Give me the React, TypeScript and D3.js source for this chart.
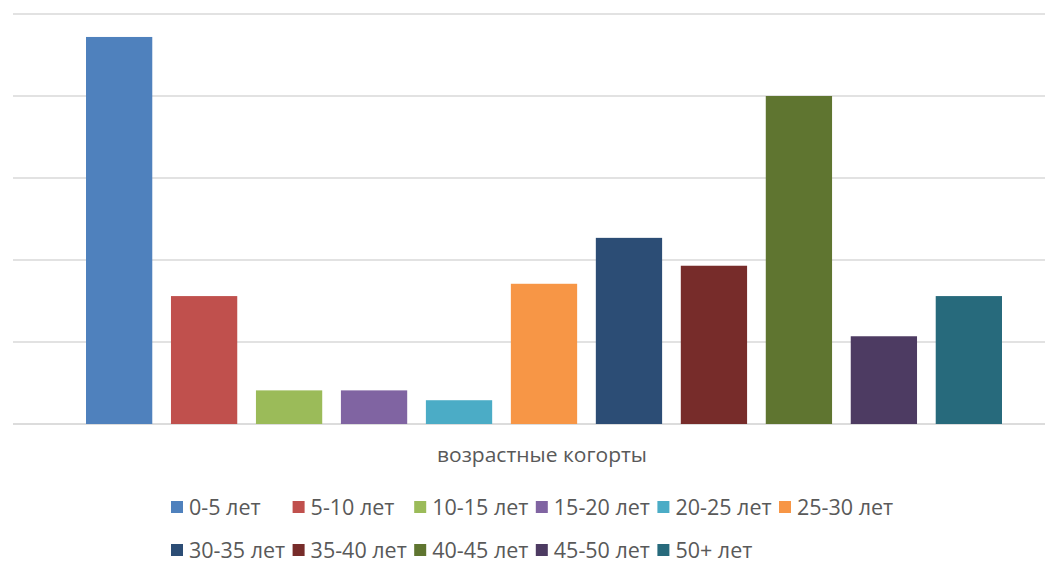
import * as d3 from "d3";

const cohorts = ["0-5 лет", "5-10 лет", "10-15 лет", "15-20 лет", "20-25 лет", "25-30 лет", "30-35 лет", "35-40 лет", "40-45 лет", "45-50 лет", "50+ лет"];
const values = [4.72, 1.56, 0.41, 0.41, 0.29, 1.71, 2.27, 1.93, 4.0, 1.07, 1.56];
const colors = ["#4F81BD", "#C0504D", "#9BBB59", "#8064A2", "#4BACC6", "#F79646", "#2C4D75", "#772C2A", "#5F7530", "#4D3B62", "#276A7C"];
const gridTicks = [0, 1, 2, 3, 4, 5];
const axisTitle = "возрастные когорты";

const width = 1045;
const height = 563;
const font = "'Open Sans', sans-serif";
const textColor = "#595959";

export default function App() {
  const x = d3.scaleBand<string>().domain(cohorts).range([86, 1002]).paddingInner(0.22).paddingOuter(0);
  const y = d3.scaleLinear().domain([0, 5]).range([424, 14]);
  const color = d3.scaleOrdinal<string, string>().domain(cohorts).range(colors);

  // legend: 6 per row, equal columns like Excel
  const perRow = 6;
  const colW = 121.6;
  const legendX = 171;
  const rowY = [507, 550];

  return (
    <svg width={width} height={height} style={{ position: "absolute", left: 0, top: 0, background: "#fff" }}>
      {gridTicks.map(t => (
        <line key={t} x1={13} x2={width} y1={y(t)} y2={y(t)}
          stroke={t === 0 ? "#d0d0d0" : "#d9d9d9"} strokeWidth={1.5} />
      ))}
      {cohorts.map((c, i) => (
        <rect key={c} x={x(c)} y={y(values[i])} width={x.bandwidth()} height={y(0) - y(values[i])} fill={color(c)} />
      ))}
      <text x={542} y={462} textAnchor="middle" fontFamily={font} fontSize={20} fill={textColor}
        textLength={210} lengthAdjust="spacingAndGlyphs">{axisTitle}</text>
      {cohorts.map((c, i) => {
        const col = i % perRow;
        const row = Math.floor(i / perRow);
        const lx = legendX + col * colW;
        const ly = rowY[row];
        return (
          <g key={c} transform={`translate(${lx},${ly})`}>
            <rect x={0} y={-6} width={12} height={12} fill={color(c)} />
            <text x={18} y={0} dy="0.35em" fontFamily={font} fontSize={21.5} fill={textColor}>{c}</text>
          </g>
        );
      })}
    </svg>
  );
}
